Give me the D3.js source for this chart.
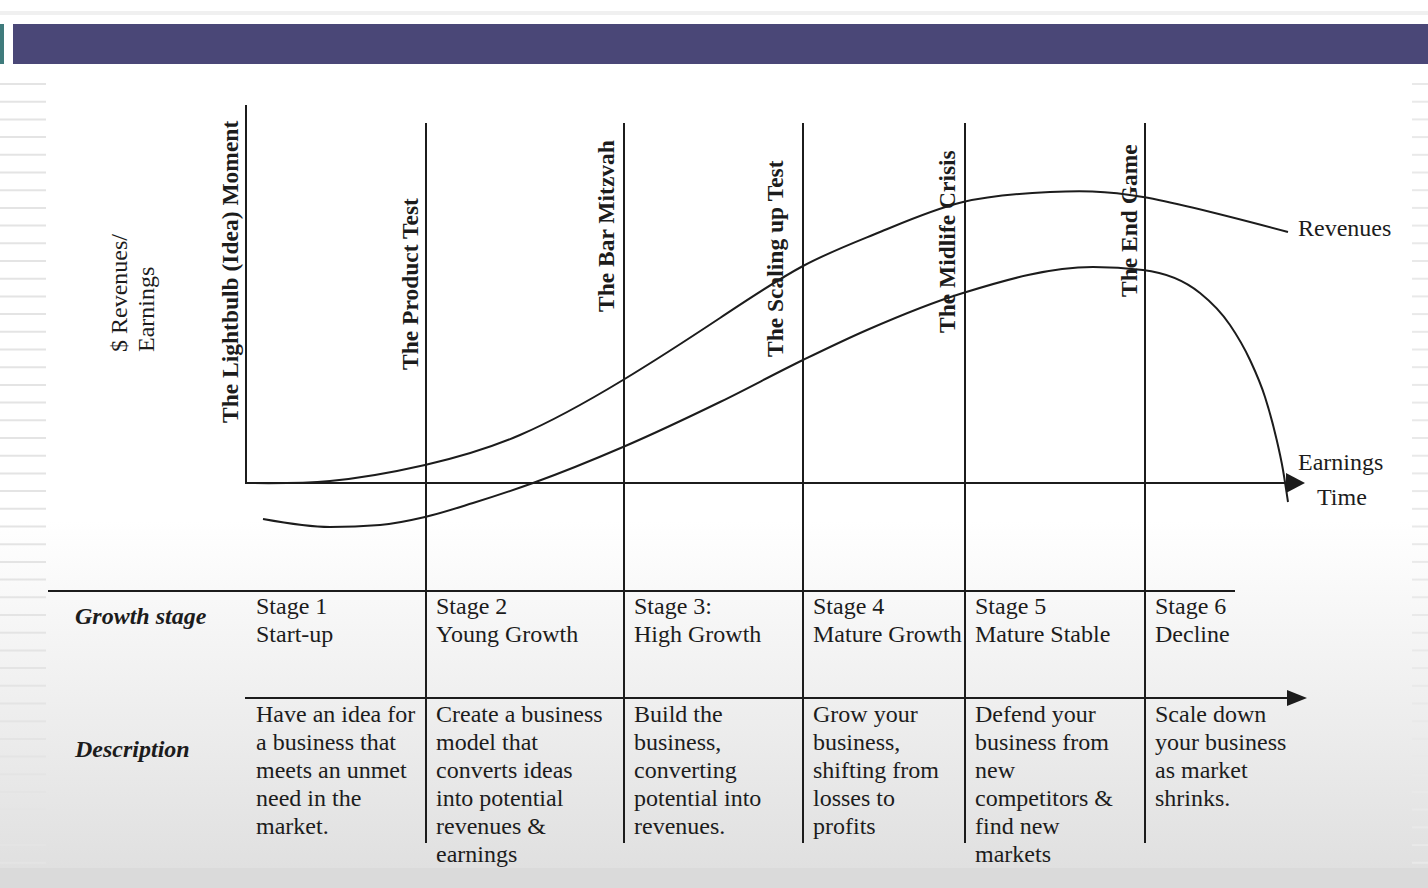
<!DOCTYPE html>
<html><head><meta charset="utf-8">
<script src="https://cdn.jsdelivr.net/npm/d3@7"></script>
<style>html,body{margin:0;padding:0;background:#fff;overflow:hidden;} svg{display:block;}</style>
</head><body>
<script>
// ---------- DATA ----------
const stageStarts = [0, 180, 378, 557, 719, 899]; // time units where each stage begins
const milestones = ["The Lightbulb (Idea) Moment", "The Product Test", "The Bar Mitzvah",
                    "The Scaling up Test", "The Midlife Crisis", "The End Game"];
const stageNumbers = ["Stage 1", "Stage 2", "Stage 3:", "Stage 4", "Stage 5", "Stage 6"];
const stageNames = ["Start-up", "Young Growth", "High Growth", "Mature Growth", "Mature Stable", "Decline"];
const descriptions = [
  ["Have an idea for", "a business that", "meets an unmet", "need in the", "market."],
  ["Create a business", "model that", "converts ideas", "into potential", "revenues &", "earnings"],
  ["Build the", "business,", "converting", "potential into", "revenues."],
  ["Grow your", "business,", "shifting from", "losses to", "profits"],
  ["Defend your", "business from", "new", "competitors &", "find new", "markets"],
  ["Scale down", "your business", "as market", "shrinks."]
];
const rowLabels = ["Growth stage", "Description"];
const seriesNames = ["Revenues", "Earnings"];
const axisLabelY = ["$ Revenues/", "Earnings"];
const axisLabelX = "Time";

const revenueT = [0, 84, 179, 274, 377, 474, 557, 634, 717, 804, 897, 1042];
const revenueV = [0, 2, 18, 48, 103, 165, 217, 251, 281, 291, 286, 251];
const earningsT = [17, 84, 134, 179, 227, 287, 377, 474, 557, 621, 717, 847, 897, 954, 984, 1004, 1019, 1030, 1037, 1042];
const earningsV = [-36, -44, -42, -34, -20, 0, 36, 81, 123, 153, 190, 216, 213, 190, 158, 123, 86, 46, 13, -19];

// ---------- LAYOUT ----------
const W = 1428, H = 888;
const serif = "'Liberation Serif','Times New Roman',Times,serif";
const ink = "#1c1c1c";

const svg = d3.select("body").append("svg").attr("width", W).attr("height", H);
const defs = svg.append("defs");
const grad = defs.append("linearGradient").attr("id", "bg").attr("x1", 0).attr("y1", 0).attr("x2", 0).attr("y2", 1);
grad.append("stop").attr("offset", "0%").attr("stop-color", "#ffffff");
grad.append("stop").attr("offset", "60%").attr("stop-color", "#ffffff");
grad.append("stop").attr("offset", "100%").attr("stop-color", "#e0e0e0");

svg.append("rect").attr("width", W).attr("height", 868).attr("fill", "url(#bg)");
svg.append("rect").attr("y", 868).attr("width", W).attr("height", H - 868).attr("fill", "#dadada");
svg.append("rect").attr("y", 11).attr("width", W).attr("height", 4).attr("fill", "#f0f0f0");

// side stripes (slide background)
const stripeYs = d3.range(84, 868, 17.7);
svg.append("g").selectAll("line").data(stripeYs).join("line")
  .attr("x1", 0).attr("x2", 46).attr("y1", d => d).attr("y2", d => d)
  .attr("stroke", "#e4e4e4").attr("stroke-width", 2);
svg.append("g").selectAll("line").data(stripeYs).join("line")
  .attr("x1", 1412).attr("x2", W).attr("y1", d => d).attr("y2", d => d)
  .attr("stroke", "#e9e9e9").attr("stroke-width", 2);

// title band
svg.append("rect").attr("x", 0).attr("y", 24).attr("width", 4).attr("height", 40).attr("fill", "#3f7b7c");
svg.append("rect").attr("x", 13).attr("y", 24).attr("width", W - 13).attr("height", 40).attr("fill", "#4a4777");

// scales
const x = d3.scaleLinear().domain([0, 1044]).range([246, 1290]);
const y = d3.scaleLinear().domain([0, 378]).range([483, 105]);

const g = svg.append("g");

// vertical stage lines
g.selectAll("line.stage").data(stageStarts.slice(1)).join("line").attr("class", "stage")
  .attr("x1", d => x(d)).attr("x2", d => x(d)).attr("y1", y(360)).attr("y2", 843)
  .attr("stroke", ink).attr("stroke-width", 2);

// y axis
g.append("line").attr("x1", x(0)).attr("x2", x(0)).attr("y1", y(378)).attr("y2", y(0))
  .attr("stroke", ink).attr("stroke-width", 2);
// x axis with arrow
g.append("line").attr("x1", x(0) - 1).attr("x2", x(1044)).attr("y1", y(0)).attr("y2", y(0))
  .attr("stroke", ink).attr("stroke-width", 2);
g.append("path").attr("d", `M${x(1040)},${y(0) - 10}L${x(1044) + 15},${y(0)}L${x(1040)},${y(0) + 10}Z`).attr("fill", ink);

// table lines
g.append("line").attr("x1", 48).attr("x2", 1235).attr("y1", 591).attr("y2", 591).attr("stroke", ink).attr("stroke-width", 2);
g.append("line").attr("x1", 245).attr("x2", 1292).attr("y1", 698).attr("y2", 698).attr("stroke", ink).attr("stroke-width", 2);
g.append("path").attr("d", `M1287,690L1307,698L1287,706Z`).attr("fill", ink);

// curves
const revLine = d3.line().x(d => x(d[0])).y(d => y(d[1])).curve(d3.curveNatural);
const earnLine = d3.line().x(d => x(d[0])).y(d => y(d[1])).curve(d3.curveMonotoneX);
const revenue = revenueT.map((t, i) => [t, revenueV[i]]);
const earnings = earningsT.map((t, i) => [t, earningsV[i]]);
g.append("path").attr("d", revLine(revenue)).attr("fill", "none").attr("stroke", ink).attr("stroke-width", 2);
g.append("path").attr("d", earnLine(earnings)).attr("fill", "none").attr("stroke", ink).attr("stroke-width", 2);

// milestone labels (rotated)
const msDx = [-8, -8, -10, -20, -10, -8];
const msBottom = [423, 370, 312, 357, 333, 297];
g.selectAll("text.ms").data(milestones).join("text").attr("class", "ms")
  .attr("transform", (d, i) => `translate(${x(stageStarts[i]) + msDx[i]},${msBottom[i]}) rotate(-90)`)
  .attr("font-family", serif).attr("font-weight", "bold").attr("font-size", 23.5).attr("fill", ink)
  .text(d => d);

// y-axis label
g.selectAll("text.yl").data(axisLabelY).join("text").attr("class", "yl")
  .attr("transform", (d, i) => `translate(${127 + i * 27},352) rotate(-90)`)
  .attr("font-family", serif).attr("font-size", 24).attr("fill", ink).text(d => d);

// series labels
const endLabel = g.append("g").attr("font-family", serif).attr("font-size", 24).attr("fill", ink);
endLabel.append("text").attr("x", 1298).attr("y", 236).text(seriesNames[0]);
endLabel.append("text").attr("x", 1298).attr("y", 470).text(seriesNames[1]);
endLabel.append("text").attr("x", 1317).attr("y", 505).text(axisLabelX);

// table text
const tbl = g.append("g").attr("font-family", serif).attr("font-size", 24).attr("fill", ink);
tbl.selectAll("text.num").data(stageNumbers).join("text").attr("class", "num")
  .attr("x", (d, i) => x(stageStarts[i]) + 10).attr("y", 614).text(d => d);
tbl.selectAll("text.name").data(stageNames).join("text").attr("class", "name")
  .attr("x", (d, i) => x(stageStarts[i]) + 10).attr("y", 642).text(d => d);
descriptions.forEach((lines, i) => {
  tbl.append("g").selectAll("text").data(lines).join("text")
    .attr("x", x(stageStarts[i]) + 10).attr("y", (d, j) => 722 + j * 28).text(d => d);
});
g.selectAll("text.row").data(rowLabels).join("text").attr("class", "row")
  .attr("x", 75).attr("y", (d, i) => i === 0 ? 624 : 757)
  .attr("font-family", serif).attr("font-size", 24).attr("font-weight", "bold").attr("font-style", "italic")
  .attr("fill", ink).text(d => d);
</script>
</body></html>
